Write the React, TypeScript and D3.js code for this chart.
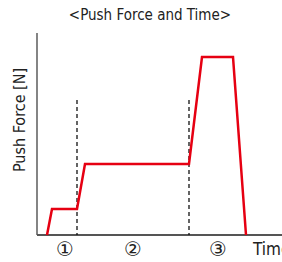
import { useRef, useEffect } from "react";
import * as d3 from "d3";

// push force profile (time units, force units)
const timeValues = [1, 1.5, 4, 4.8, 15.2, 16.5, 19.6, 20.9];
const forceValues = [0, 2.6, 2.6, 7.1, 7.1, 17.8, 17.8, 0];
const phaseBounds = [4, 15.2];
const phaseBoundTop = 13.5;
const phaseLabels = ["①", "②", "③"];
const phaseLabelTimes = [2.8, 9.6, 18.1];

const FONT = "'Liberation Sans Narrow', 'DejaVu Sans Condensed', Arial, sans-serif";

export default function App() {
  const svgRef = useRef<SVGSVGElement>(null);

  useEffect(() => {
    const svg = d3.select(svgRef.current);
    svg.selectAll("*").remove();

    const x = d3.scaleLinear().domain([0, 24.5]).range([37, 282]);
    const y = d3.scaleLinear().domain([0, 20.2]).range([235, 33]);

    // Título
    svg
      .append("text")
      .attr("x", 150)
      .attr("y", 20)
      .attr("text-anchor", "middle")
      .attr("font-family", FONT)
      .attr("font-size", "15px")
      .attr("fill", "#222")
      .text("<Push Force and Time>");

    // Ejes
    svg
      .append("line")
      .attr("x1", x(0))
      .attr("x2", x(0))
      .attr("y1", y(20.2))
      .attr("y2", y(0))
      .attr("stroke", "#333")
      .attr("stroke-width", 1.2);

    svg
      .append("line")
      .attr("x1", x(0))
      .attr("x2", x(24.5))
      .attr("y1", y(0))
      .attr("y2", y(0))
      .attr("stroke", "#555")
      .attr("stroke-width", 2);

    // Líneas de fase
    phaseBounds.forEach((t) => {
      svg
        .append("line")
        .attr("x1", x(t))
        .attr("x2", x(t))
        .attr("y1", y(phaseBoundTop))
        .attr("y2", y(0))
        .attr("stroke", "#111")
        .attr("stroke-width", 1.3)
        .attr("stroke-dasharray", "4,3");
    });

    // Curva de fuerza
    const pts = timeValues.map((t, i) => ({ t, f: forceValues[i] }));
    const line = d3
      .line<{ t: number; f: number }>()
      .x((d) => x(d.t))
      .y((d) => y(d.f));

    svg
      .append("path")
      .datum(pts)
      .attr("d", line)
      .attr("fill", "none")
      .attr("stroke", "#e60012")
      .attr("stroke-width", 2.5)
      .attr("stroke-linejoin", "miter");

    // Etiquetas de fase
    phaseLabels.forEach((lab, i) => {
      svg
        .append("text")
        .attr("x", x(phaseLabelTimes[i]))
        .attr("y", 256)
        .attr("text-anchor", "middle")
        .attr("font-family", "'DejaVu Sans', sans-serif")
        .attr("font-size", "20px")
        .attr("fill", "#222")
        .text(lab);
    });

    svg
      .append("text")
      .attr("x", 253)
      .attr("y", 255)
      .attr("font-family", FONT)
      .attr("font-size", "17px")
      .attr("fill", "#222")
      .text("Time");

    svg
      .append("text")
      .attr("transform", `translate(25,${120}) rotate(-90)`)
      .attr("text-anchor", "middle")
      .attr("font-family", FONT)
      .attr("font-size", "16px")
      .attr("fill", "#222")
      .text("Push Force [N]");
  }, []);

  return (
    <svg
      ref={svgRef}
      width={282}
      height={262}
      style={{ position: "absolute", left: 0, top: 0 }}
    ></svg>
  );
}
